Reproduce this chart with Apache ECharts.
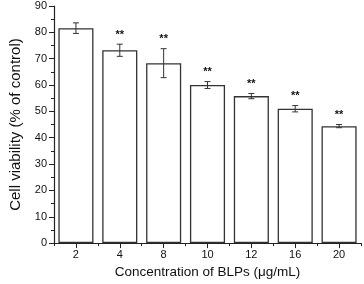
<!DOCTYPE html>
<html>
<head>
<meta charset="utf-8">
<script src="https://cdn.jsdelivr.net/npm/echarts@6/dist/echarts.min.js"></script>
<style>html,body{margin:0;padding:0;background:#fff;}#c{width:364px;height:284px;}</style>
</head>
<body>
<div id="c"></div>
<script>
var categories = ['2', '4', '8', '10', '12', '16', '20'];
var viability = [81.6, 73.2, 68.3, 60.0, 55.8, 51.0, 44.4];
var errors = [2.0, 2.3, 5.5, 1.3, 1.0, 1.2, 0.6];
var significance = ['', '**', '**', '**', '**', '**', '**'];
var yTicks = [0, 10, 20, 30, 40, 50, 60, 70, 80, 90];

var errData = categories.map(function (c, i) {
  return [i, viability[i] - errors[i], viability[i] + errors[i]];
});

var chart = echarts.init(document.getElementById('c'), null, {renderer: 'canvas'});
var font = 'Liberation Sans, Arial, sans-serif';
chart.setOption({
  animation: false,
  backgroundColor: '#fff',
  grid: {left: 47, right: 3, top: 6, bottom: 40, containLabel: false},
  xAxis: [{
    type: 'category',
    data: categories,
    name: 'Concentration of BLPs (\u03bcg/mL)',
    nameLocation: 'middle',
    nameGap: 19,
    nameTextStyle: {fontFamily: font, fontSize: 13.5, color: '#111'},
    axisLine: {lineStyle: {color: '#222', width: 1.2}},
    axisTick: {show: true, alignWithLabel: true, length: 5, lineStyle: {color: '#222'}},
    axisLabel: {fontFamily: font, fontSize: 11, color: '#111', margin: 6}
  }, {
    type: 'category',
    data: categories,
    position: 'bottom',
    axisLine: {show: false},
    axisTick: {show: true, alignWithLabel: false, length: 3, lineStyle: {color: '#222'}},
    axisLabel: {show: false}
  }],
  yAxis: {
    type: 'value',
    min: yTicks[0],
    max: yTicks[yTicks.length - 1],
    interval: 10,
    name: 'Cell viability (% of control)',
    nameLocation: 'middle',
    nameGap: 31,
    nameTextStyle: {fontFamily: font, fontSize: 15, color: '#111'},
    axisLine: {show: true, lineStyle: {color: '#222', width: 1.2}},
    axisTick: {show: true, inside: false, length: 5, lineStyle: {color: '#222'}},
    minorTick: {show: true, splitNumber: 2, length: 3, lineStyle: {color: '#222'}},
    splitLine: {show: false},
    axisLabel: {fontFamily: font, fontSize: 11, color: '#111', margin: 7}
  },
  series: [{
    type: 'bar',
    data: viability,
    barCategoryGap: '20%',
    itemStyle: {color: '#fff', borderColor: '#333', borderWidth: 1.3},
    silent: true
  }, {
    type: 'custom',
    data: errData,
    z: 5,
    renderItem: function (params, api) {
      var i = api.value(0);
      var lo = api.coord([i, api.value(1)]);
      var hi = api.coord([i, api.value(2)]);
      var x = lo[0];
      var cap = 3;
      var style = {stroke: '#333', lineWidth: 1};
      var children = [
        {type: 'line', shape: {x1: x, y1: lo[1], x2: x, y2: hi[1]}, style: style},
        {type: 'line', shape: {x1: x - cap, y1: lo[1], x2: x + cap, y2: lo[1]}, style: style},
        {type: 'line', shape: {x1: x - cap, y1: hi[1], x2: x + cap, y2: hi[1]}, style: style}
      ];
      var s = significance[i];
      if (s) {
        children.push({
          type: 'text',
          style: {text: s, x: x, y: hi[1] - 4, textAlign: 'center', textVerticalAlign: 'bottom',
            font: 'bold 11px ' + font, fill: '#111'}
        });
      }
      return {type: 'group', children: children};
    }
  }]
});
</script>
</body>
</html>
